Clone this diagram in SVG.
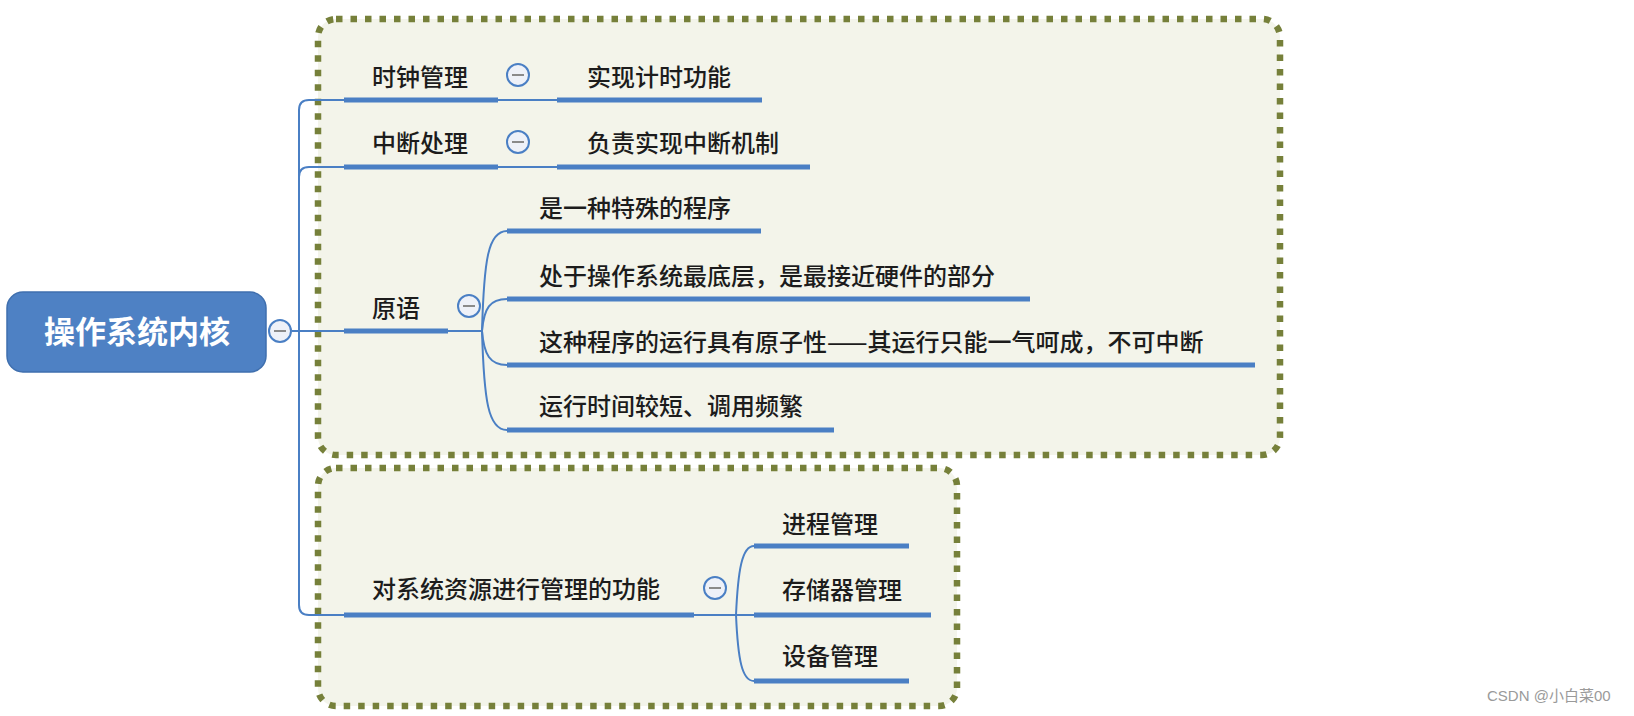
<svg xmlns="http://www.w3.org/2000/svg" width="1634" height="716" viewBox="0 0 1634 716">
<defs>
<style>
.bg{fill:#ffffff}
.zone{fill:#f3f4ea;stroke:#76803a;stroke-width:6.5;stroke-dasharray:6.5 8}
.t{font-family:"Noto Sans CJK SC","Noto Sans",sans-serif;font-size:24px;font-weight:500;fill:#1c1c1c}
.root{font-family:"Noto Sans CJK SC","Noto Sans",sans-serif;font-size:31px;font-weight:bold;fill:#ffffff}
.ul{stroke:#4a7fc4;stroke-width:5;fill:none}
.c{stroke:#4a7fc4;stroke-width:2;fill:none}
.btn{fill:#eef1f8;stroke:#4a7fc4;stroke-width:2}
.minus{stroke:#8a8a8a;stroke-width:2}
.wm{font-family:"Liberation Sans","Noto Sans CJK SC",sans-serif;font-size:15px;fill:#9a9a9a}
</style>
</defs>
<rect class="bg" x="0" y="0" width="1634" height="716"/>
<rect class="zone" x="318" y="19" width="962" height="436" rx="18"/>
<rect class="zone" x="318" y="468" width="639" height="238" rx="18"/>

<g id="connectors">
<path class="c" d="M292,331 H344"/>
<path class="c" d="M299,331 V110 Q299,100 309,100 H344"/>
<path class="c" d="M299,177 Q299,167 309,167 H344"/>
<path class="c" d="M299,331 V605 Q299,615 309,615 H344"/>
<path class="c" d="M498,100 H557"/>
<path class="c" d="M498,167 H557"/>
<path class="c" d="M448,331 H482"/>
<path class="c" d="M482,331 C484,260 488,231 507,231"/>
<path class="c" d="M482,331 C484,308 490,299 507,299"/>
<path class="c" d="M482,331 C484,355 490,365 507,365"/>
<path class="c" d="M482,331 C484,400 488,430 507,430"/>
<path class="c" d="M694,615 H736"/>
<path class="c" d="M736,615 C738,570 742,546 754,546"/>
<path class="c" d="M736,615 H754"/>
<path class="c" d="M736,615 C738,660 742,681 754,681"/>
</g>

<g id="root">
<rect x="7" y="292" width="259" height="80" rx="16" fill="#4e81c4" stroke="#3f6fae" stroke-width="1.5"/>
<text class="root" x="137" y="343" text-anchor="middle">操作系统内核</text>
<circle class="btn" cx="280" cy="331" r="11"/>
<line class="minus" x1="274" y1="331" x2="286" y2="331"/>
</g>

<g id="n-clock">
<text class="t" x="372" y="86">时钟管理</text>
<line class="ul" x1="344" y1="100" x2="498" y2="100"/>
<circle class="btn" cx="518" cy="75" r="11"/>
<line class="minus" x1="512" y1="75" x2="524" y2="75"/>
</g>
<g id="n-clock-1">
<text class="t" x="587" y="86">实现计时功能</text>
<line class="ul" x1="557" y1="100" x2="762" y2="100"/>
</g>

<g id="n-int">
<text class="t" x="372" y="152">中断处理</text>
<line class="ul" x1="344" y1="167" x2="498" y2="167"/>
<circle class="btn" cx="518" cy="142" r="11"/>
<line class="minus" x1="512" y1="142" x2="524" y2="142"/>
</g>
<g id="n-int-1">
<text class="t" x="587" y="152">负责实现中断机制</text>
<line class="ul" x1="557" y1="167" x2="810" y2="167"/>
</g>

<g id="n-prim">
<text class="t" x="372" y="317">原语</text>
<line class="ul" x1="344" y1="331" x2="448" y2="331"/>
<circle class="btn" cx="469" cy="306" r="11"/>
<line class="minus" x1="463" y1="306" x2="475" y2="306"/>
</g>
<g id="n-prim-1">
<text class="t" x="539" y="217">是一种特殊的程序</text>
<line class="ul" x1="507" y1="231" x2="761" y2="231"/>
</g>
<g id="n-prim-2">
<text class="t" x="539" y="285">处于操作系统最底层，是最接近硬件的部分</text>
<line class="ul" x1="507" y1="299" x2="1030" y2="299"/>
</g>
<g id="n-prim-3">
<text class="t" x="539" y="351">这种程序的运行具有原子性——其运行只能一气呵成，不可中断</text>
<line class="ul" x1="507" y1="365" x2="1255" y2="365"/>
</g>
<g id="n-prim-4">
<text class="t" x="539" y="415">运行时间较短、调用频繁</text>
<line class="ul" x1="507" y1="430" x2="834" y2="430"/>
</g>

<g id="n-res">
<text class="t" x="372" y="598">对系统资源进行管理的功能</text>
<line class="ul" x1="344" y1="615" x2="694" y2="615"/>
<circle class="btn" cx="715" cy="588" r="11"/>
<line class="minus" x1="709" y1="588" x2="721" y2="588"/>
</g>
<g id="n-res-1">
<text class="t" x="782" y="533">进程管理</text>
<line class="ul" x1="754" y1="546" x2="909" y2="546"/>
</g>
<g id="n-res-2">
<text class="t" x="782" y="599">存储器管理</text>
<line class="ul" x1="754" y1="615" x2="931" y2="615"/>
</g>
<g id="n-res-3">
<text class="t" x="782" y="665">设备管理</text>
<line class="ul" x1="754" y1="681" x2="909" y2="681"/>
</g>

<text class="wm" x="1487" y="701">CSDN @小白菜00</text>
</svg>
